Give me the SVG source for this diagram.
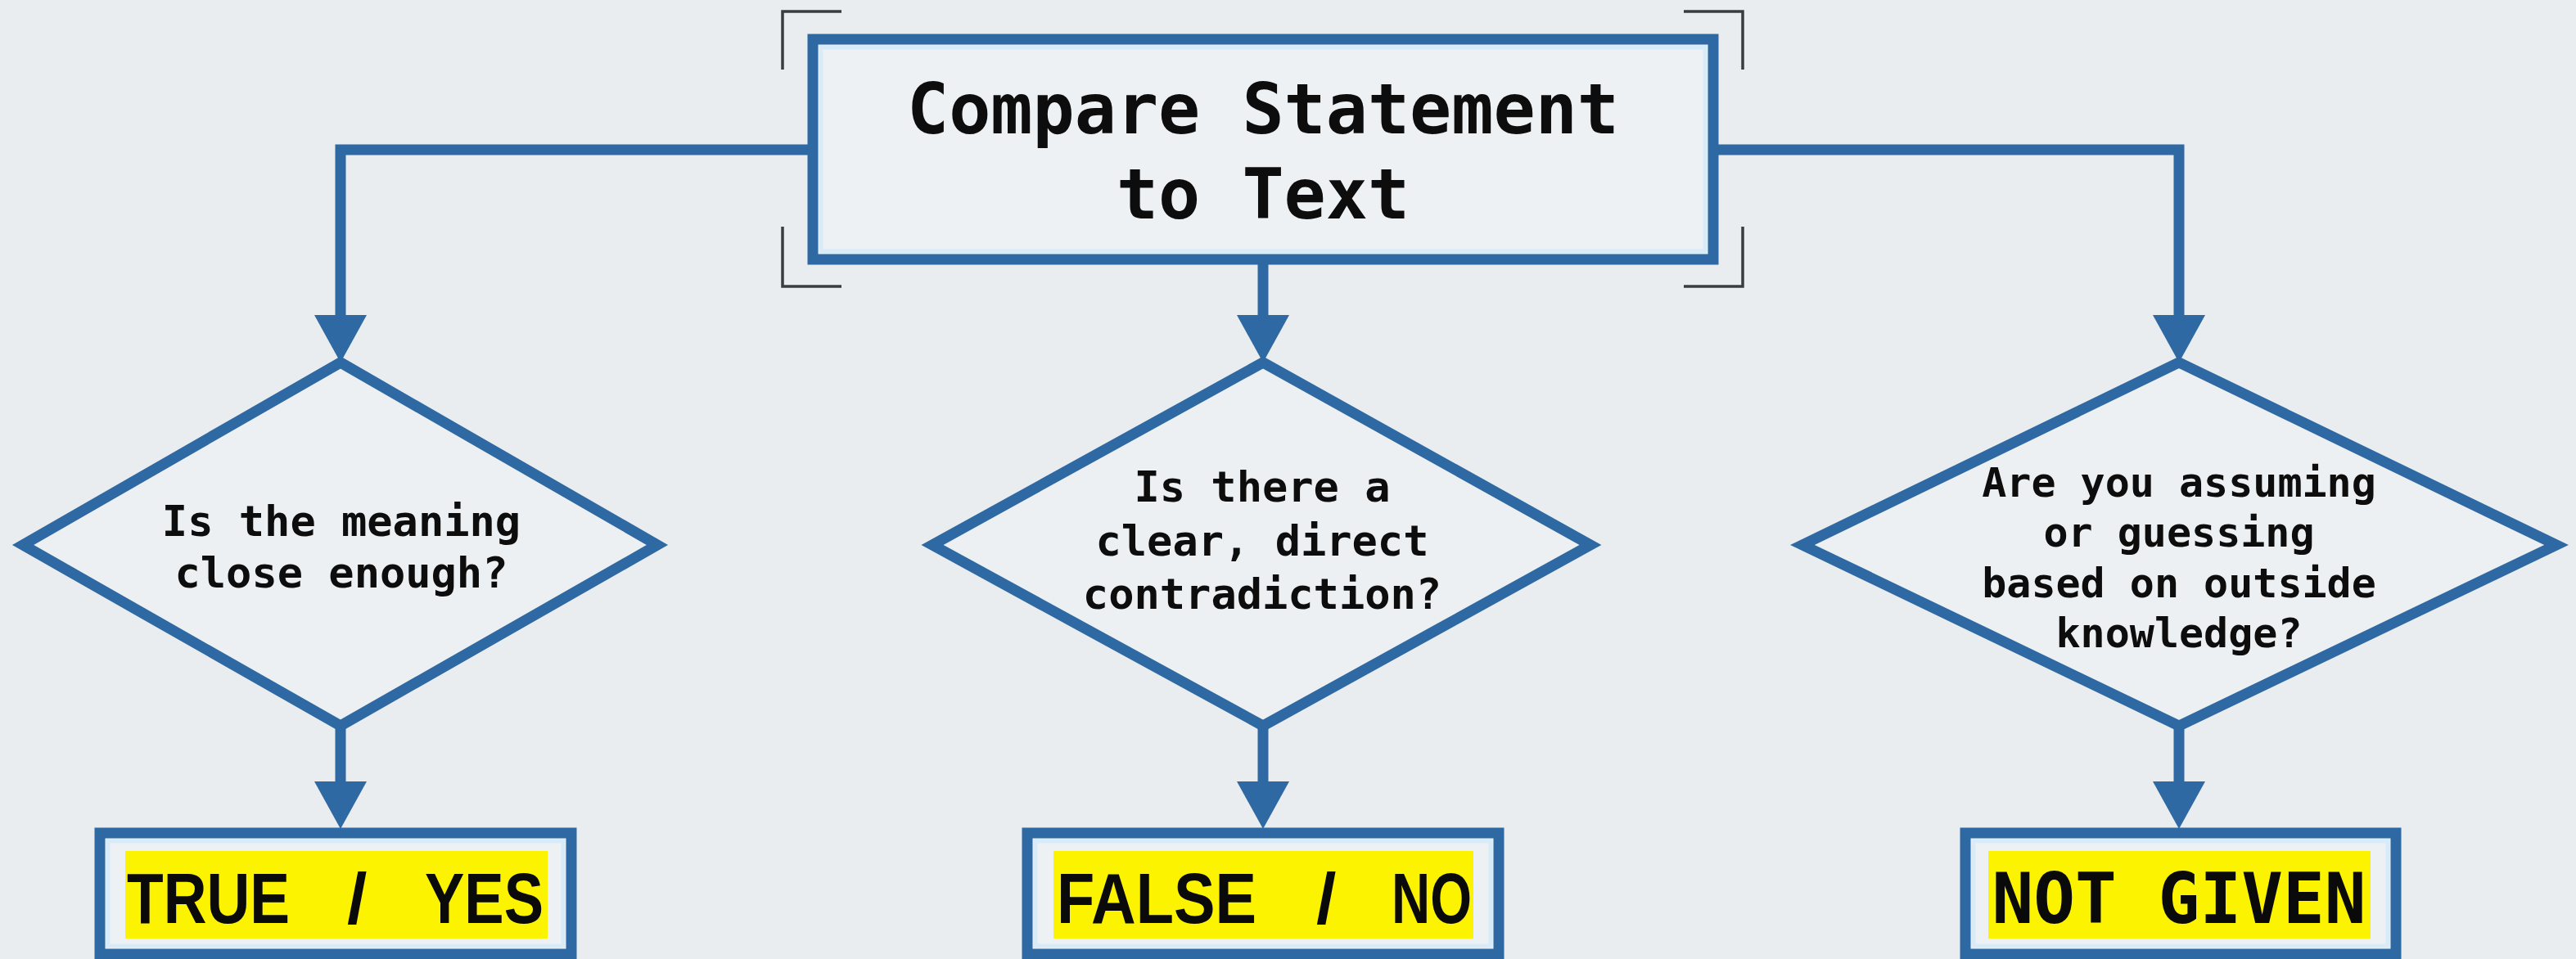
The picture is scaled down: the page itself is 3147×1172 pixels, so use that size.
<svg xmlns="http://www.w3.org/2000/svg" width="3147" height="1172" viewBox="0 0 3147 1172">
<style>
.bg{fill:#e9edf0}
.box{fill:#eef1f3;stroke:#2e69a3;stroke-width:13}
.inner{fill:none;stroke:#d7ebf9;stroke-width:5}
.dia{fill:#edf0f2;stroke:#2e69a3;stroke-width:13;stroke-linejoin:miter}
.conn{fill:none;stroke:#2e69a3;stroke-width:13;stroke-linejoin:miter}
.brk{fill:none;stroke:#3a3d40;stroke-width:3.5}
.title{font-family:"DejaVu Sans Mono","Liberation Mono",monospace;font-weight:bold;font-size:85px;fill:#0d0d0d;text-anchor:middle}
.q{font-family:"DejaVu Sans Mono","Liberation Mono",monospace;font-weight:bold;fill:#0d0d0d;text-anchor:middle}
.res{font-family:"Liberation Sans",Arial,sans-serif;font-weight:bold;font-size:88px;fill:#0a0a0a}
.resm{font-family:"DejaVu Sans Mono","Liberation Mono",monospace;font-weight:bold;font-size:86px;fill:#0a0a0a;text-anchor:middle}
.hl{fill:#fbf300}
</style>
<defs>
<marker id="arr" viewBox="0 0 58 64" refX="0" refY="32" markerWidth="58" markerHeight="64" markerUnits="userSpaceOnUse" orient="auto">
<path d="M0,0 L58,32 L0,64 z" fill="#2e69a3"/>
</marker>
</defs>
<rect class="bg" x="0" y="0" width="3147" height="1172"/>

<g id="connectors">
<path class="conn" d="M987,183 H416 V385" marker-end="url(#arr)"/>
<path class="conn" d="M1543,323 V385" marker-end="url(#arr)"/>
<path class="conn" d="M2099,183 H2662 V385" marker-end="url(#arr)"/>
<path class="conn" d="M416,885 V955" marker-end="url(#arr)"/>
<path class="conn" d="M1543,885 V955" marker-end="url(#arr)"/>
<path class="conn" d="M2662,885 V955" marker-end="url(#arr)"/>
</g>

<g id="start">
<path class="brk" d="M956,85 V14 H1028 M2057,14 H2129 V85 M956,277 V350 H1028 M2057,350 H2129 V277"/>
<rect class="box" x="993" y="48" width="1100" height="269"/>
<rect class="inner" x="1003" y="58" width="1080" height="249"/>
<text class="title" x="1543" y="163">Compare Statement</text>
<text class="title" x="1543" y="267">to Text</text>
</g>

<g id="q1">
<polygon class="dia" points="416,443 803,666 416,887 28,666"/>
<text class="q" font-size="52" x="417" y="655">Is the meaning</text>
<text class="q" font-size="52" x="417" y="718">close enough?</text>
</g>

<g id="q2">
<polygon class="dia" points="1543,443 1943,666 1543,887 1139,666"/>
<text class="q" font-size="52" x="1542" y="613">Is there a</text>
<text class="q" font-size="52" x="1542" y="679">clear, direct</text>
<text class="q" font-size="52" x="1542" y="744">contradiction?</text>
</g>

<g id="q3">
<polygon class="dia" points="2662,443 3123,666 2662,887 2202,666"/>
<text class="q" font-size="50" x="2662" y="607">Are you assuming</text>
<text class="q" font-size="50" x="2662" y="668">or guessing</text>
<text class="q" font-size="50" x="2662" y="730">based on outside</text>
<text class="q" font-size="50" x="2662" y="791">knowledge?</text>
</g>

<g id="r1">
<rect class="box" x="122" y="1018" width="576" height="148"/>
<rect class="inner" x="132" y="1028" width="556" height="128"/>
<rect class="hl" x="153" y="1040" width="516" height="107"/>
<text class="res" y="1128"><tspan x="155" textLength="199" lengthAdjust="spacingAndGlyphs">TRUE</tspan> <tspan x="424">/</tspan> <tspan x="519" textLength="145" lengthAdjust="spacingAndGlyphs">YES</tspan></text>
</g>

<g id="r2">
<rect class="box" x="1255" y="1018" width="576" height="148"/>
<rect class="inner" x="1265" y="1028" width="556" height="128"/>
<rect class="hl" x="1287" y="1040" width="513" height="107"/>
<text class="res" y="1128"><tspan x="1291" textLength="244" lengthAdjust="spacingAndGlyphs">FALSE</tspan> <tspan x="1608">/</tspan> <tspan x="1700" textLength="98" lengthAdjust="spacingAndGlyphs">NO</tspan></text>
</g>

<g id="r3">
<rect class="box" x="2401" y="1018" width="526" height="148"/>
<rect class="inner" x="2411" y="1028" width="506" height="128"/>
<rect class="hl" x="2429" y="1040" width="467" height="107"/>
<text class="resm" x="2662" y="1128" textLength="457" lengthAdjust="spacingAndGlyphs">NOT GIVEN</text>
</g>
</svg>
